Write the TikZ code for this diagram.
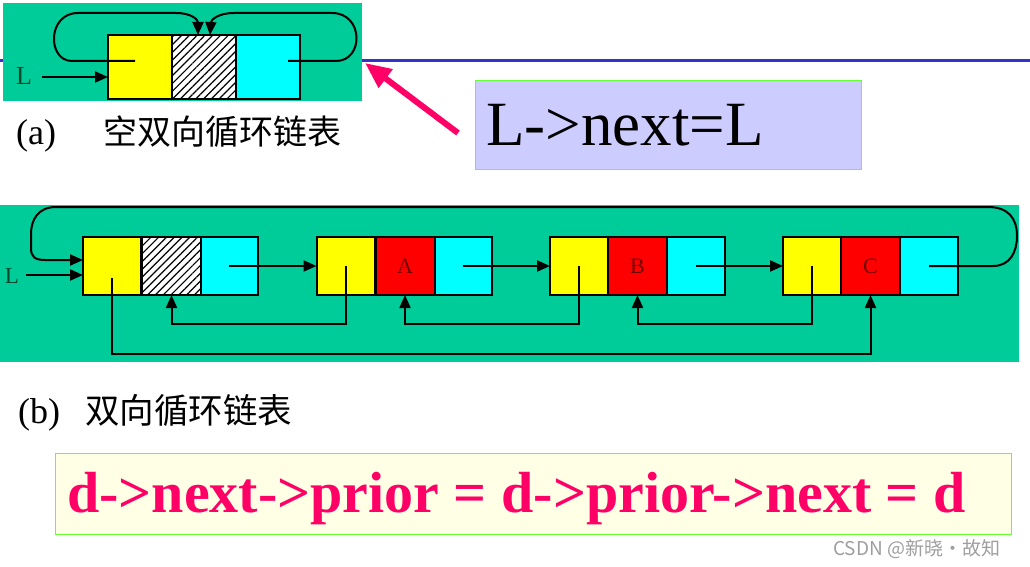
\documentclass[tikz,border=0pt]{standalone}
\usepackage{fontspec}
\setmainfont{Liberation Serif}
\newfontfamily\cjk{Noto Sans CJK SC}
\usetikzlibrary{arrows.meta,patterns.meta,calc}
\definecolor{bggreen}{RGB}{0,204,153}
\definecolor{cyanc}{RGB}{0,255,255}
\definecolor{yellowc}{RGB}{255,255,0}
\definecolor{redc}{RGB}{255,0,0}
\definecolor{bluel}{RGB}{51,51,204}
\definecolor{pinkc}{RGB}{255,0,102}
\definecolor{boxgreen}{RGB}{102,255,51}
\definecolor{lav}{RGB}{204,204,255}
\definecolor{cream}{RGB}{255,255,230}
\definecolor{darkL}{RGB}{0,70,45}
\definecolor{darkred}{RGB}{110,0,0}
\begin{document}
\begin{tikzpicture}[x=1pt,y=-1pt,
  cellb/.style={draw=black, line width=2pt, minimum width=58pt, minimum height=58pt, inner sep=0pt, outer sep=0pt, anchor=north west},
  cella/.style={cellb, minimum width=64pt, minimum height=64pt},
  hatch/.style={preaction={fill=white}, pattern={Lines[angle=45,distance=5.5pt,line width=1.2pt]}, pattern color=black},
  conn/.style={line width=2pt, draw=black},
  arr/.style={conn, -{Triangle[length=13pt,width=11pt]}},
  lbl/.style={text=darkL, inner sep=0pt},
  dlbl/.style={font=\fontsize{22}{22}\selectfont, text=darkred, inner sep=0pt}
]
\useasboundingbox (0,0) rectangle (1030,567);
% blue rule
\draw[bluel, line width=3pt] (0,61) -- (1030,61);
% ---------- (a) ----------
\node (ga) [fill=bggreen, minimum width=359pt, minimum height=98pt, inner sep=0pt, outer sep=0pt, anchor=north west] at (3,3) {};
\node (ty) [cella, fill=yellowc] at (108,35) {};
\node (th) [cella, hatch] at (172,35) {};
\node (tc) [cella, fill=cyanc] at (236,35) {};
\draw[arr] ($(ty.center)+(-5,-6)$) -- (72,61) .. controls (47,61) and (47,13) .. (78,13) -- (176,13) .. controls (192,13) and (198,20) .. ($(th.north)+(-6,0)$);
\draw[arr] ($(tc.center)+(20,-6)$) -- (336,61) .. controls (364,61) and (364,13) .. (332,13) -- (234,13) .. controls (218,13) and (211,20) .. ($(th.north)+(6,0)$);
\node (tL) [lbl, font=\fontsize{26}{26}\selectfont] at (24,76) {L};
\draw[arr] ($(tL.east)+(10,1)$) -- ($(ty.west)+(0,10)$);
\node (capa) [anchor=base west, inner sep=0pt, font=\fontsize{36}{36}\selectfont] at (16,144) {(a)};
\node (capa2) [anchor=base west, inner sep=0pt, font=\cjk\fontsize{34}{34}\selectfont] at (103,144) {空双向循环链表};
% L->next=L box
\node (eq1) [draw=boxgreen, fill=lav, line width=1pt, minimum width=386pt, minimum height=89pt, inner sep=0pt, anchor=north west] at (475,80) {};
\node (eq1t) [anchor=base west, inner sep=0pt, font=\fontsize{63}{63}\selectfont] at (486,146) {L->next=L};
\draw[pinkc, line width=6pt, -{Triangle[length=26pt,width=22pt]}] ($(eq1.west)+(-17,8)$) -- ($(ga.east)+(3,11)$);
% ---------- (b) ----------
\node (gb) [fill=bggreen, minimum width=1019pt, minimum height=157pt, inner sep=0pt, outer sep=0pt, anchor=north west] at (0,205) {};
\foreach \i/\L in {0/83,1/316.5,2/550,3/783}{
  \node (n\i y) [cellb, fill=yellowc] at (\L,237) {};
  \node (n\i c) [cellb, fill=cyanc] at (\L+117,237) {};
}
\node (n0d) [cellb, minimum width=59pt, hatch] at (142,237) {};
\node (n1d) [cellb, minimum width=59pt, fill=redc] at (375.5,237) {};
\node (n2d) [cellb, minimum width=59pt, fill=redc] at (608,237) {};
\node (n3d) [cellb, minimum width=59pt, fill=redc] at (841,237) {};
\node[dlbl] at (n1d.center) {A};
\node[dlbl] at (n2d.center) {B};
\node[dlbl] at (n3d.center) {C};
% next arrows
\draw[arr] (n0c.center) -- (n1y.west);
\draw[arr] (n1c.center) -- (n2y.west);
\draw[arr] (n2c.center) -- (n3y.west);
% prior arrows
\draw[arr] (n1y.center) -- ++(0,58) -| (n0d.south);
\draw[arr] (n2y.center) -- ++(0,58) -| (n1d.south);
\draw[arr] (n3y.center) -- ++(0,58) -| (n2d.south);
\draw[arr] ($(n0y.center)+(0,12)$) -- ++(0,76) -| (n3d.south);
% circular next
\draw[arr] (n3c.center) -- (993,266) .. controls (1010,266) and (1017,252) .. (1017,236) .. controls (1017,218) and (1008,207) .. (988,207) -- (56,207) .. controls (38,207) and (31,220) .. (31,234) -- (31,248) .. controls (31,257) and (35,260) .. (45,260) -- ($(n0y.west)+(0,-6)$);
\node (bL) [lbl, font=\fontsize{23}{23}\selectfont] at (12,276) {L};
\draw[arr] ($(bL.east)+(7,-1)$) -- ($(n0y.west)+(0,9)$);
\node (capb) [anchor=base west, inner sep=0pt, font=\fontsize{36}{36}\selectfont] at (18,423) {(b)};
\node (capb2) [anchor=base west, inner sep=0pt, font=\cjk\fontsize{34.5}{34.5}\selectfont] at (85,423) {双向循环链表};
% equation box
\node (eq2) [draw=boxgreen, fill=cream, line width=1pt, minimum width=956pt, minimum height=81pt, inner sep=0pt, anchor=north west] at (55,453) {};
\node (eq2t) [anchor=base west, inner sep=0pt, text=pinkc, font=\bfseries\fontsize{58}{58}\selectfont] at (67,512) {d->next->prior = d->prior->next = d};
% watermark
\node (wm) [anchor=west, inner sep=0pt, text=black!38, font=\cjk\fontsize{19}{19}\selectfont] at (833,549) {CSDN @新晓·故知};
\end{tikzpicture}
\end{document}
